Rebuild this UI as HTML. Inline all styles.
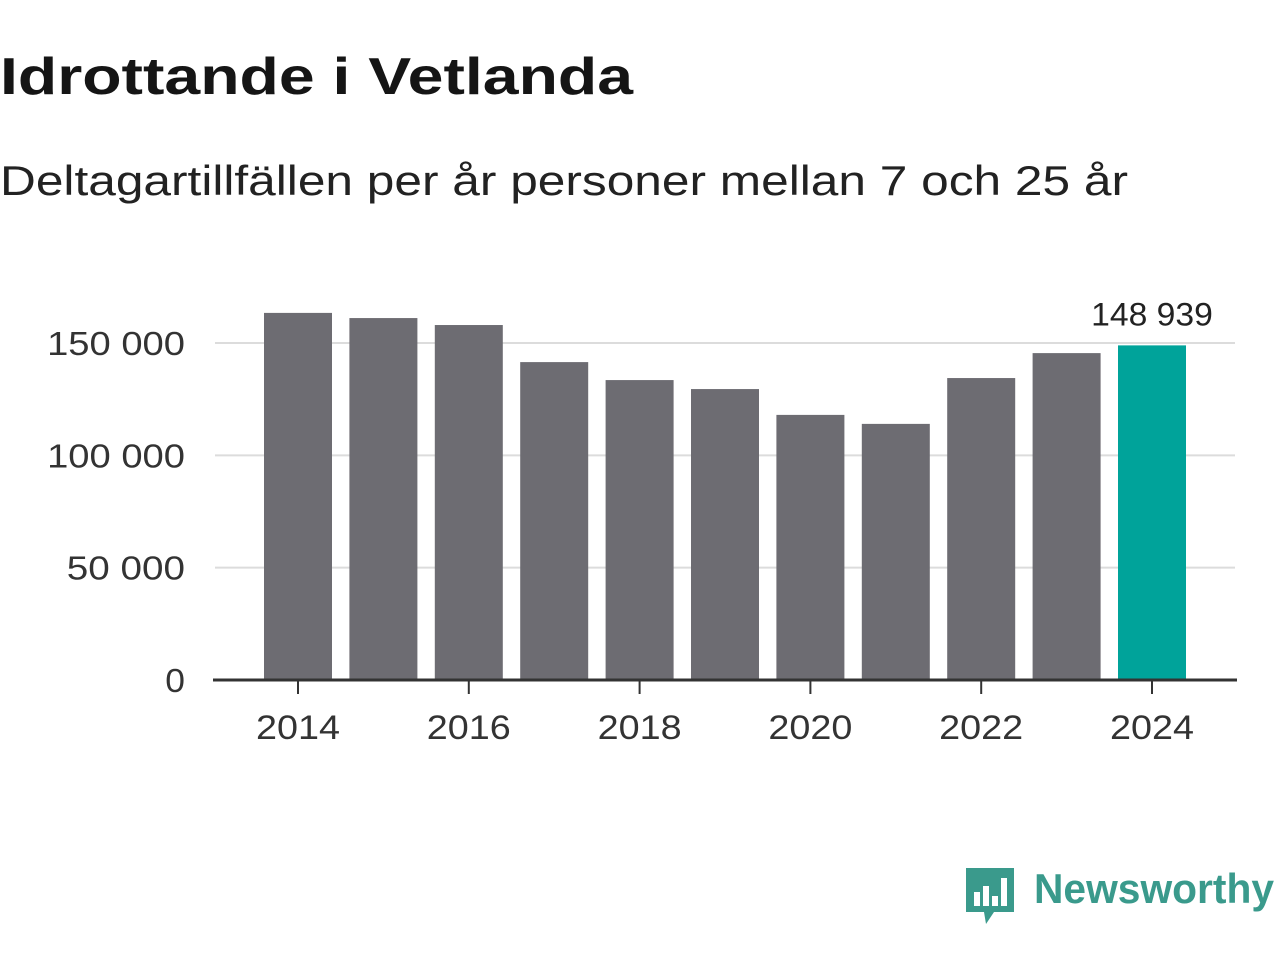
<!DOCTYPE html>
<html><head><meta charset="utf-8">
<style>
body{margin:0;background:#fff;width:1280px;height:960px;overflow:hidden;font-family:"Liberation Sans",sans-serif;}
svg{position:absolute;left:0;top:0;}
</style></head><body>
<svg id="chart" width="1280" height="960">
<text x="0" y="94" font-size="52" font-weight="bold" fill="#151515" textLength="633" lengthAdjust="spacingAndGlyphs">Idrottande i Vetlanda</text>
<text x="0" y="195" font-size="42" fill="#222" textLength="1128" lengthAdjust="spacingAndGlyphs">Deltagartillfällen per år personer mellan 7 och 25 år</text>
</svg>
<script>
const years=[2014,2015,2016,2017,2018,2019,2020,2021,2022,2023,2024];
const values=[163400,161100,158000,141500,133500,129500,118000,114000,134400,145500,148939];
const yTicks=[0,50000,100000,150000];
const yTickLabels=["0","50 000","100 000","150 000"];
const xTickYears=[2014,2016,2018,2020,2022,2024];
const ns="http://www.w3.org/2000/svg";
const svg=document.getElementById('chart');
const y0=680,pxPer=337/150000;
const y=v=>y0-v*pxPer;
const x=yr=>298+(yr-2014)*85.4;
function mk(t,a,p){const e=document.createElementNS(ns,t);for(const k in a)e.setAttribute(k,a[k]);(p||svg).appendChild(e);return e;}
yTicks.forEach((v,i)=>{
 if(v>0){const g=mk('line',{x1:215,x2:1235,y1:y(v),y2:y(v),stroke:'#dcdcdc','stroke-width':2});
 
 }
 const s=yTickLabels[i];
 const t=mk('text',{x:185,y:y(v)+12,'text-anchor':'end','font-size':33,fill:'#333',textLength:s.length*19.7,lengthAdjust:'spacingAndGlyphs'});
 t.textContent=s;
 
 
});
years.forEach((yr,i)=>{
 const last=i===years.length-1;
 const r=mk('rect',{x:x(yr)-34,y:y(values[i]),width:68,height:y0-y(values[i]),fill:last?'#00a39a':'#6d6c72'});
 
 
 if(last){const s=String(values[i]).replace(/\B(?=(\d{3})+(?!\d))/g,' ');
 const t=mk('text',{x:x(yr),y:y(values[i])-20,'text-anchor':'middle','font-size':32,fill:'#222',textLength:s.length*17.4,lengthAdjust:'spacingAndGlyphs'});
 t.textContent=s;
 
 }
});
const ax=mk('line',{x1:213,x2:1237,y1:y0,y2:y0,stroke:'#333','stroke-width':3});


xTickYears.forEach(yr=>{
 mk('line',{x1:x(yr),x2:x(yr),y1:y0,y2:y0+14,stroke:'#333','stroke-width':2});
 const t=mk('text',{x:x(yr),y:739,'text-anchor':'middle','font-size':34,fill:'#333',textLength:84,lengthAdjust:'spacingAndGlyphs'});
 t.textContent=yr;
 
 
});
const g=mk('g',{});


mk('path',{d:'M966 868 h48 v44 h-20 l-8 12 l-2 -12 h-18 z',fill:'#3a9a8c'},g);
[[974,892,6,14],[983,886,6,20],[992,896,6,10],[1001,878,6,28]].forEach(b=>mk('rect',{x:b[0],y:b[1],width:b[2],height:b[3],fill:'#fff'},g));
const lt=mk('text',{x:1034,y:903,'font-size':42,fill:'#3a9a8c','font-weight':'bold',textLength:240,lengthAdjust:'spacingAndGlyphs'},g);
lt.textContent='Newsworthy';
</script>
</body></html>
